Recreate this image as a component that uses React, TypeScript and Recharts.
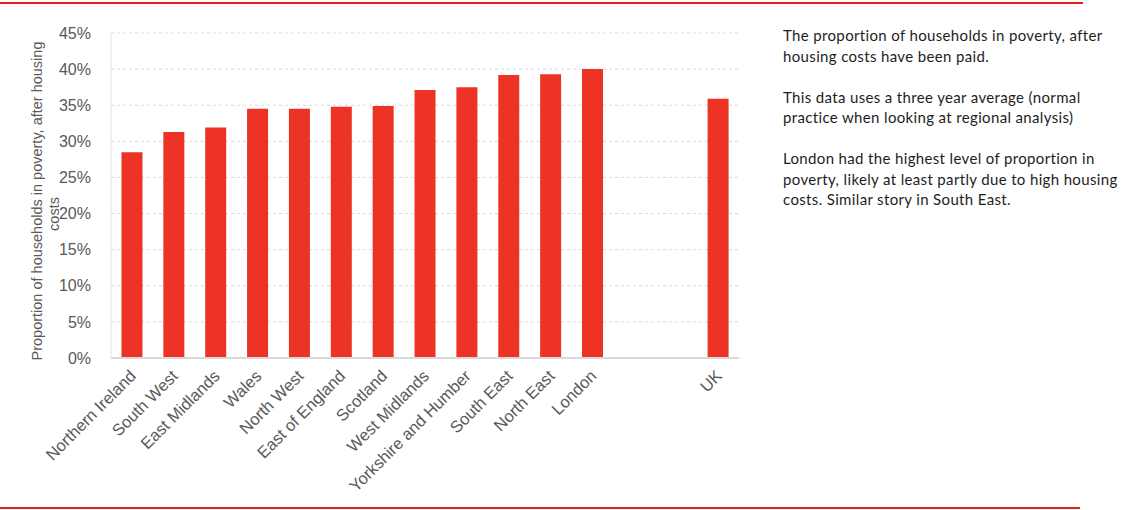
import { BarChart, Bar, XAxis, YAxis, CartesianGrid } from 'recharts';

const regions = [
    'Northern Ireland',
    'South West',
    'East Midlands',
    'Wales',
    'North West',
    'East of England',
    'Scotland',
    'West Midlands',
    'Yorkshire and Humber',
    'South East',
    'North East',
    'London',
    '',
    ' ',
    'UK',
];

// % of households in poverty after housing costs (three year average)
const povertyRates = [28.5, 31.3, 31.9, 34.5, 34.5, 34.8, 34.9, 37.1, 37.5, 39.2, 39.3, 40.0, null, null, 35.9];

const yTicks = [0, 5, 10, 15, 20, 25, 30, 35, 40, 45];

const notes = [
    ['The proportion of households in poverty, after', 'housing costs have been paid.'],
    ['This data uses a three year average (normal', 'practice when looking at regional analysis)'],
    ['London had the highest level of proportion in', 'poverty, likely at least partly due to high housing', 'costs. Similar story in South East.'],
];

const data = regions.map((name, i) => ({ name, value: povertyRates[i] }));

const RED = '#ec3326';
const AXIS_TEXT = '#595959';
const FONT = 'Arial, "Liberation Sans", sans-serif';

interface TickProps {
    x?: number;
    y?: number;
    payload?: { value: string };
}

function RotatedTick({ x = 0, y = 0, payload }: TickProps) {
    return (
        <g transform={`translate(${x - 2},${y + 4})`}>
            <text
                x={0}
                y={0}
                dy={10}
                textAnchor="end"
                transform="rotate(-45)"
                fill={AXIS_TEXT}
                fontSize={16.5}
                fontFamily={FONT}
            >
                {payload?.value}
            </text>
        </g>
    );
}

function YLabel() {
    return (
        <g>
            <text
                transform="translate(42,201) rotate(-90)"
                textAnchor="middle"
                fill={AXIS_TEXT}
                fontSize={14.5}
                fontFamily={FONT}
            >
                Proportion of households in poverty, after housing
            </text>
            <text
                transform="translate(59,214) rotate(-90)"
                textAnchor="middle"
                fill={AXIS_TEXT}
                fontSize={14.5}
                fontFamily={FONT}
            >
                costs
            </text>
        </g>
    );
}

export default function App() {
    return (
        <div
            style={{
                position: 'absolute',
                left: 0,
                top: 0,
                width: 1126,
                height: 510,
                background: '#fff',
                overflow: 'hidden',
            }}
        >
            <div style={{ position: 'absolute', left: 0, top: 2, width: 1083, height: 2, background: '#e8201c' }} />
            <div style={{ position: 'absolute', left: 0, top: 507, width: 1080, height: 2, background: '#e8201c' }} />

            <div style={{ position: 'absolute', left: 0, top: 0 }}>
                <BarChart
                    width={760}
                    height={510}
                    data={data}
                    margin={{ top: 33, right: 21, left: 0, bottom: 0 }}
                    barCategoryGap="25%"
                >
                    <CartesianGrid vertical={false} stroke="#d9d9d9" strokeDasharray="3 3" />
                    <XAxis
                        dataKey="name"
                        interval={0}
                        height={152}
                        tickLine={false}
                        axisLine={{ stroke: '#d9d9d9', strokeWidth: 2 }}
                        tick={<RotatedTick />}
                    />
                    <YAxis
                        width={111}
                        domain={[0, 45]}
                        ticks={yTicks}
                        tickLine={false}
                        axisLine={{ stroke: '#e3e3e3' }}
                        tickFormatter={(v: number) => `${v}%`}
                        tick={{ fill: AXIS_TEXT, fontSize: 16, fontFamily: FONT }}
                        tickMargin={14}
                        label={<YLabel />}
                    />
                    <Bar dataKey="value" fill={RED} isAnimationActive={false} />
                </BarChart>
            </div>

            <div
                style={{
                    position: 'absolute',
                    left: 783,
                    top: 25,
                    width: 340,
                    fontFamily: 'Lato, "Open Sans", sans-serif',
                    fontSize: 15,
                    letterSpacing: 0.35,
                    lineHeight: '20.5px',
                    color: '#1e1e1e',
                }}
            >
                {notes.map((para, i) => (
                    <div key={i} style={{ marginBottom: i < notes.length - 1 ? 20.5 : 0 }}>
                        {para.map((line, j) => (
                            <div key={j} style={{ whiteSpace: 'nowrap' }}>
                                {line}
                            </div>
                        ))}
                    </div>
                ))}
            </div>
        </div>
    );
}
